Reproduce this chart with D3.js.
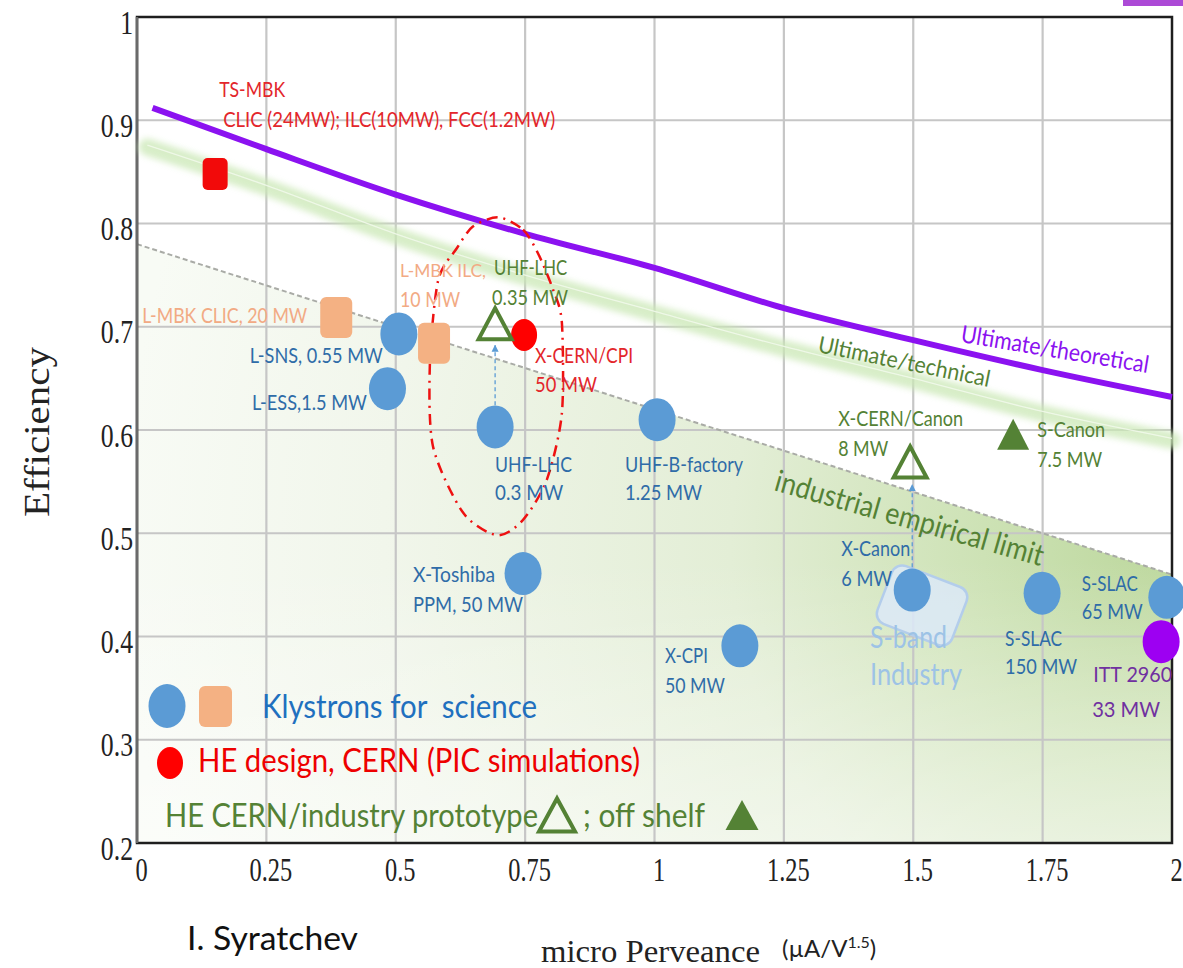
<!DOCTYPE html>
<html><head><meta charset="utf-8">
<script src="https://cdn.jsdelivr.net/npm/d3@7"></script>
<style>html,body{margin:0;padding:0;background:#fff;} svg{display:block;}</style>
</head><body><svg id="chart" width="1183" height="968"></svg>
<script>
// ---------------- DATA ----------------
const xTicks = [0, 0.25, 0.5, 0.75, 1, 1.25, 1.5, 1.75, 2];
const xTickLabels = ["0", "0.25", "0.5", "0.75", "1", "1.25", "1.5", "1.75", "2"];
const yTicks = [0.2, 0.3, 0.4, 0.5, 0.6, 0.7, 0.8, 0.9, 1.0];
const yTickLabels = ["0.2", "0.3", "0.4", "0.5", "0.6", "0.7", "0.8", "0.9", "1"];

// Klystrons for science (blue circles)
const scienceKlystrons = [
  {id: "L-SNS", lines: ["L-SNS, 0.55 MW"], perveance: 0.506, efficiency: 0.693},
  {id: "L-ESS", lines: ["L-ESS,1.5 MW"], perveance: 0.484, efficiency: 0.640},
  {id: "UHF-LHC-0.3", lines: ["UHF-LHC", "0.3 MW"], perveance: 0.692, efficiency: 0.603},
  {id: "UHF-B", lines: ["UHF-B-factory", "1.25 MW"], perveance: 1.005, efficiency: 0.610},
  {id: "X-Toshiba", lines: ["X-Toshiba", "PPM, 50 MW"], perveance: 0.746, efficiency: 0.461},
  {id: "X-CPI", lines: ["X-CPI", "50 MW"], perveance: 1.165, efficiency: 0.391},
  {id: "X-Canon", lines: ["X-Canon", "6 MW"], perveance: 1.498, efficiency: 0.445},
  {id: "S-SLAC-150", lines: ["S-SLAC", "150 MW"], perveance: 1.749, efficiency: 0.442},
  {id: "S-SLAC-65", lines: ["S-SLAC", "65 MW"], perveance: 1.990, efficiency: 0.438}
];
// Multi-beam klystrons for science (orange squares)
const mbkKlystrons = [
  {id: "L-MBK-CLIC", lines: ["L-MBK CLIC, 20 MW"], perveance: 0.385, efficiency: 0.709},
  {id: "L-MBK-ILC", lines: ["L-MBK ILC,", "10 MW"], perveance: 0.574, efficiency: 0.684}
];
// TS-MBK design (red square)
const tsMbk = [
  {id: "TS-MBK", lines: ["TS-MBK", "CLIC (24MW); ILC(10MW), FCC(1.2MW)"], perveance: 0.151, efficiency: 0.848}
];
// HE design, CERN (red circle)
const heDesigns = [
  {id: "X-CERN/CPI", lines: ["X-CERN/CPI", "50 MW"], perveance: 0.748, efficiency: 0.692}
];
// HE CERN/industry prototypes (open triangles)
const prototypes = [
  {id: "UHF-LHC-0.35", lines: ["UHF-LHC", "0.35 MW"], perveance: 0.692, efficiency: 0.703},
  {id: "X-CERN/Canon", lines: ["X-CERN/Canon", "8 MW"], perveance: 1.494, efficiency: 0.569}
];
// Off the shelf (filled triangle)
const offShelf = [
  {id: "S-Canon", lines: ["S-Canon", "7.5 MW"], perveance: 1.693, efficiency: 0.596}
];
// ITT tube (purple circle)
const ittTubes = [
  {id: "ITT", lines: ["ITT 2960", "33 MW"], perveance: 1.979, efficiency: 0.395}
];
// Upgrade arrows (perveance, from efficiency, to efficiency)
const upgrades = [
  {perveance: 0.692, from: 0.624, to: 0.682},
  {perveance: 1.498, from: 0.467, to: 0.547}
];
// Limit curves
const theoreticalLimit = [[0.03,0.912],[0.25,0.872],[0.5,0.828],[0.75,0.79],[1.0,0.757],[1.25,0.718],[1.5,0.687],[1.75,0.658],[2.0,0.632]];
const technicalLimit = [[0.02,0.874],[0.25,0.835],[0.5,0.788],[0.75,0.748],[1.0,0.713],[1.25,0.679],[1.5,0.648],[1.75,0.616],[2.0,0.59]];
const empiricalLimit = [[0,0.78],[2,0.46]];
// Highlight loop around the UHF-LHC upgrade
const highlightLoop = [[0.698,0.806],[0.746,0.794],[0.775,0.771],[0.804,0.736],[0.821,0.704],[0.821,0.616],[0.792,0.552],[0.746,0.513],[0.696,0.498],[0.630,0.520],[0.572,0.584],[0.566,0.665],[0.582,0.745],[0.618,0.776],[0.649,0.797]];
// S-band industry zone centre
const sBandZone = [{perveance: 1.517, efficiency: 0.43}];

// ---------------- LAYOUT / STYLE ----------------
const W = 1183, H = 968;
const x = d3.scaleLinear().domain([0, 2]).range([137, 1172]);
const y = d3.scaleLinear().domain([0.2, 1]).range([843, 17]);

const C = {
  blue: "#5b9bd5", blueText: "#2f6ca8", legendBlue: "#1f70bf",
  orange: "#f4b183", orangeText: "#f2aa84",
  red: "#ff0000", redText: "#e3262b",
  green: "#548235", purple: "#8b12f0", ittPurple: "#9d00f2", ittText: "#7030a0",
  grid: "#c6c6c6"
};
const SANS = "Lato, 'Open Sans', sans-serif";
const SERIF = "'Liberation Serif', 'DejaVu Serif', serif";

const labelLayout = {
  "L-SNS": {anchor: "end", dx: [-16], dy: [29], w: [133]},
  "L-ESS": {anchor: "end", dx: [-20.5], dy: [21], w: [115]},
  "L-MBK-CLIC": {anchor: "end", dx: [-29], dy: [5.5], w: [165]},
  "L-MBK-ILC": {anchor: "start", dx: [-34, -34], dy: [-66, -36], w: [86, 60], size: [17, 21]},
  "UHF-LHC-0.35": {anchor: "start", dx: [-1, -3], dy: [-48.6, -18.6], w: [73, 76]},
  "X-CERN/CPI": {anchor: "start", dx: [11, 11], dy: [28, 57], w: [98, 62]},
  "UHF-LHC-0.3": {anchor: "start", dx: [0, 0], dy: [45, 73], w: [77, 68]},
  "UHF-B": {anchor: "start", dx: [-32, -32], dy: [52, 80], w: [118, 77]},
  "X-Toshiba": {anchor: "start", dx: [-110, -110], dy: [8.5, 38.5], w: [82, 110]},
  "X-CPI": {anchor: "start", dx: [-75, -75], dy: [17, 47], w: [43, 60]},
  "X-Canon": {anchor: "start", dx: [-71, -71], dy: [-34, -4], w: [69, 51]},
  "S-SLAC-150": {anchor: "start", dx: [-37, -37], dy: [53, 81], w: [57, 72]},
  "S-SLAC-65": {anchor: "start", dx: [-85, -85], dy: [-6, 22], w: [56, 61]},
  "ITT": {anchor: "start", dx: [-68, -69], dy: [40.5, 75.5], w: [79, 68]},
  "X-CERN/Canon": {anchor: "start", dx: [-72, -72], dy: [-36, -6], w: [125, 50]},
  "S-Canon": {anchor: "start", dx: [24, 24], dy: [3, 33], w: [68, 65]},
  "TS-MBK": {anchor: "start", dx: [4, 8], dy: [-77, -47], w: [66, 332]}
};

const svg = d3.select("#chart");
const defs = svg.append("defs");

// gradients
const rg = defs.append("radialGradient").attr("id", "empFade")
  .attr("gradientUnits", "userSpaceOnUse")
  .attr("cx", 1172).attr("cy", 545).attr("r", 1050).attr("fx", 1172).attr("fy", 545);
rg.append("stop").attr("offset", 0).attr("stop-color", "#bcd79c");
rg.append("stop").attr("offset", 0.18).attr("stop-color", "#cde2b5");
rg.append("stop").attr("offset", 0.42).attr("stop-color", "#e3eed6");
rg.append("stop").attr("offset", 0.75).attr("stop-color", "#f1f6eb");
rg.append("stop").attr("offset", 1).attr("stop-color", "#f8fbf5");
const lg2 = defs.append("linearGradient").attr("id", "empBottom")
  .attr("gradientUnits", "userSpaceOnUse")
  .attr("x1", 0).attr("y1", 560).attr("x2", 0).attr("y2", 843);
lg2.append("stop").attr("offset", 0).attr("stop-color", "#ffffff").attr("stop-opacity", 0);
lg2.append("stop").attr("offset", 1).attr("stop-color", "#ffffff").attr("stop-opacity", 0.45);

const blur = defs.append("filter").attr("id", "soft").attr("x", "-10%").attr("y", "-50%").attr("width", "120%").attr("height", "200%");
blur.append("feGaussianBlur").attr("stdDeviation", 3);

const arrowM = defs.append("marker").attr("id", "arr").attr("viewBox", "0 0 10 10")
  .attr("refX", 9).attr("refY", 5).attr("markerWidth", 7).attr("markerHeight", 9)
  .attr("markerUnits", "userSpaceOnUse").attr("orient", "auto");
arrowM.append("path").attr("d", "M0,0 L10,5 L0,10 Z").attr("fill", C.blue);

svg.append("rect").attr("width", W).attr("height", H).attr("fill", "#fff");

// Empirical area
const areaGen = d3.area().x(d => x(d[0])).y0(y(0.2)).y1(d => y(d[1]));
svg.append("path").datum(empiricalLimit).attr("d", areaGen).attr("fill", "url(#empFade)");
svg.append("path").datum(empiricalLimit).attr("d", areaGen).attr("fill", "url(#empBottom)");

// Grid
const gridX = xTicks.filter(v => v > 0 && v < 2);
const gridY = yTicks.filter(v => v > 0.2 && v < 1);
svg.append("g").selectAll("line").data(gridX).join("line")
  .attr("x1", d => x(d)).attr("x2", d => x(d)).attr("y1", y(1)).attr("y2", y(0.2))
  .attr("stroke", C.grid).attr("stroke-width", 2.2);
svg.append("g").selectAll("line").data(gridY).join("line")
  .attr("x1", x(0)).attr("x2", x(2)).attr("y1", d => y(d)).attr("y2", d => y(d))
  .attr("stroke", C.grid).attr("stroke-width", 2.2);

// Empirical dashed border
const lineGen = d3.line().x(d => x(d[0])).y(d => y(d[1]));
svg.append("path").datum(empiricalLimit).attr("d", lineGen)
  .attr("fill", "none").attr("stroke", "#a9aba6").attr("stroke-width", 2).attr("stroke-dasharray", "5,3");

// Plot frame
svg.append("rect").attr("x", x(0)).attr("y", y(1)).attr("width", x(2) - x(0)).attr("height", y(0.2) - y(1))
  .attr("fill", "none").attr("stroke", "#1e1e1e").attr("stroke-width", 2.5);
svg.append("line").attr("x1", x(0)).attr("x2", x(0)).attr("y1", y(1)).attr("y2", y(0.2))
  .attr("stroke", "#6a6a6a").attr("stroke-width", 2.5);

// Axes labels via d3 axes
const yAxis = svg.append("g").attr("transform", `translate(${x(0)},0)`)
  .call(d3.axisLeft(y).tickValues(yTicks).tickFormat((d, i) => yTickLabels[i]).tickSize(0));
yAxis.select(".domain").remove();
yAxis.selectAll("text").attr("font-family", SERIF).attr("font-size", 33).attr("fill", "#222")
  .attr("transform", "scale(0.78,1)").attr("x", -4 / 0.78).attr("dy", null).attr("y", 16);
const xAxis = svg.append("g").attr("transform", `translate(0,${y(0.2)})`)
  .call(d3.axisBottom(x).tickValues(xTicks).tickFormat((d, i) => xTickLabels[i]).tickSize(0));
xAxis.select(".domain").remove();
xAxis.selectAll("text").attr("font-family", SERIF).attr("font-size", 33).attr("fill", "#222")
  .attr("dy", null).attr("y", 38)
  .attr("transform", "translate(4,0) scale(0.74,1)");

// Technical limit band
const curve = d3.line().x(d => x(d[0])).y(d => y(d[1])).curve(d3.curveMonotoneX);
svg.append("path").datum(technicalLimit).attr("d", curve).attr("fill", "none")
  .attr("stroke", "#cbe8b6").attr("stroke-width", 17).attr("stroke-linecap", "round")
  .attr("opacity", 0.75).attr("filter", "url(#soft)");
svg.append("path").datum(technicalLimit).attr("d", curve).attr("fill", "none")
  .attr("stroke", "#f2f9ec").attr("stroke-width", 1.3).attr("opacity", 0.85)
  .attr("transform", "translate(0,-2)");

// Theoretical limit
svg.append("path").datum(theoreticalLimit).attr("d", curve).attr("fill", "none")
  .attr("stroke", C.purple).attr("stroke-width", 6);

// S-band industry zone
svg.selectAll(".sband").data(sBandZone).join("rect")
  .attr("x", -40).attr("y", -31).attr("width", 80).attr("height", 62).attr("rx", 11)
  .attr("transform", d => `translate(${x(d.perveance)},${y(d.efficiency)}) rotate(21)`)
  .attr("fill", "#dce9f8").attr("fill-opacity", 0.85).attr("stroke", "#b3cdeb").attr("stroke-width", 2.5);

// Highlight loop
svg.append("path").datum(highlightLoop)
  .attr("d", d3.line().x(d => x(d[0])).y(d => y(d[1])).curve(d3.curveCardinalClosed.tension(0.2)))
  .attr("fill", "none").attr("stroke", "#ee1111").attr("stroke-width", 2.5)
  .attr("stroke-dasharray", "11,6,2,6");

// Upgrade arrows
svg.selectAll(".upg").data(upgrades).join("line")
  .attr("x1", d => x(d.perveance)).attr("x2", d => x(d.perveance))
  .attr("y1", d => y(d.from)).attr("y2", d => y(d.to))
  .attr("stroke", C.blue).attr("stroke-width", 1.3).attr("stroke-dasharray", "4,3")
  .attr("marker-end", "url(#arr)");

// Markers
function circles(data, fill, rx, ry) {
  svg.append("g").selectAll("ellipse").data(data).join("ellipse")
    .attr("cx", d => x(d.perveance)).attr("cy", d => y(d.efficiency))
    .attr("rx", rx).attr("ry", ry).attr("fill", fill);
}
function squares(data, fill, w, h, r) {
  svg.append("g").selectAll("rect").data(data).join("rect")
    .attr("x", d => x(d.perveance) - w / 2).attr("y", d => y(d.efficiency) - h / 2)
    .attr("width", w).attr("height", h).attr("rx", r).attr("fill", fill);
}
function triPath(cx, cy, w, h) {
  return `M${cx},${cy - h / 2} L${cx + w / 2},${cy + h / 2} L${cx - w / 2},${cy + h / 2} Z`;
}
circles(scienceKlystrons, C.blue, 18.5, 21.5);
squares(mbkKlystrons, C.orange, 32, 41, 6);
squares(tsMbk, "#f20a0a", 25, 32, 5);
circles(heDesigns, C.red, 13, 16);
circles(ittTubes, C.ittPurple, 18.5, 21.5);
svg.append("g").selectAll("path").data(prototypes).join("path")
  .attr("d", d => triPath(x(d.perveance), y(d.efficiency), 33, 31))
  .attr("fill", "none").attr("stroke", C.green).attr("stroke-width", 4).attr("stroke-linejoin", "miter");
svg.append("g").selectAll("path").data(offShelf).join("path")
  .attr("d", d => triPath(x(d.perveance), y(d.efficiency), 32, 31))
  .attr("fill", C.green);

// Point labels
function labels(data, color) {
  data.forEach(d => {
    const L = labelLayout[d.id];
    const px = x(d.perveance), py = y(d.efficiency);
    d.lines.forEach((t, i) => {
      svg.append("text").text(t)
        .attr("x", px + L.dx[Math.min(i, L.dx.length - 1)]).attr("y", py + L.dy[i])
        .attr("text-anchor", L.anchor).attr("font-family", SANS)
        .attr("font-size", L.size ? L.size[i] : 21)
        .attr("fill", color).attr("textLength", L.w[i]).attr("lengthAdjust", "spacingAndGlyphs");
    });
  });
}
labels(scienceKlystrons, C.blueText);
labels(mbkKlystrons, C.orangeText);
labels(tsMbk, C.redText);
labels(heDesigns, C.redText);
labels(prototypes, C.green);
labels(offShelf, C.green);
labels(ittTubes, C.ittText);

// S-band zone text (over the zone)
svg.append("text").text("S-band").attr("x", 870).attr("y", 648)
  .attr("font-family", SANS).attr("font-size", 31).attr("fill", "#9dc3e6")
  .attr("textLength", 77).attr("lengthAdjust", "spacingAndGlyphs");
svg.append("text").text("Industry").attr("x", 870).attr("y", 685)
  .attr("font-family", SANS).attr("font-size", 31).attr("fill", "#9dc3e6")
  .attr("textLength", 92).attr("lengthAdjust", "spacingAndGlyphs");

// Curve annotations (rotated)
function rotText(t, px, py, ang, size, color, len) {
  svg.append("text").text(t).attr("transform", `translate(${px},${py}) rotate(${ang})`)
    .attr("font-family", SANS).attr("font-size", size).attr("fill", color)
    .attr("textLength", len).attr("lengthAdjust", "spacingAndGlyphs");
}
rotText("Ultimate/theoretical", 960, 342, 9.4, 24, C.purple, 190);
rotText("Ultimate/technical", 817, 352, 11.5, 23, C.green, 175);
rotText("industrial empirical limit", 773, 490, 15.9, 30, C.green, 278);

// Legend
const legend = svg.append("g");
legend.append("ellipse").attr("cx", 167).attr("cy", 706).attr("rx", 18.5).attr("ry", 22).attr("fill", C.blue);
legend.append("rect").attr("x", 199).attr("y", 686).attr("width", 33).attr("height", 41).attr("rx", 6).attr("fill", C.orange);
legend.append("text").text("Klystrons for  science").style("white-space", "pre")
  .attr("x", 262).attr("y", 718).attr("font-family", SANS).attr("font-size", 32).attr("fill", C.legendBlue)
  .attr("textLength", 275).attr("lengthAdjust", "spacingAndGlyphs");
legend.append("ellipse").attr("cx", 170).attr("cy", 763).attr("rx", 13).attr("ry", 16).attr("fill", C.red);
legend.append("text").text("HE design, CERN (PIC simulations)")
  .attr("x", 198).attr("y", 772).attr("font-family", SANS).attr("font-size", 32).attr("fill", "#ee0000")
  .attr("textLength", 442).attr("lengthAdjust", "spacingAndGlyphs");
legend.append("text").text("HE CERN/industry prototype")
  .attr("x", 165).attr("y", 827).attr("font-family", SANS).attr("font-size", 32).attr("fill", C.green)
  .attr("textLength", 373).attr("lengthAdjust", "spacingAndGlyphs");
legend.append("path").attr("d", triPath(557, 815, 36, 33)).attr("fill", "none").attr("stroke", C.green).attr("stroke-width", 4);
legend.append("text").text("; off shelf")
  .attr("x", 583).attr("y", 827).attr("font-family", SANS).attr("font-size", 32).attr("fill", C.green)
  .attr("textLength", 122).attr("lengthAdjust", "spacingAndGlyphs");
legend.append("path").attr("d", triPath(742, 815, 33, 30)).attr("fill", C.green);

// Axis titles
svg.append("text").text("Efficiency").attr("transform", "translate(49,517) rotate(-90)")
  .attr("font-family", SERIF).attr("font-size", 35).attr("fill", "#222")
  .attr("textLength", 170).attr("lengthAdjust", "spacingAndGlyphs");
svg.append("text").text("micro Perveance").attr("x", 541).attr("y", 962)
  .attr("font-family", SERIF).attr("font-size", 31).attr("fill", "#222")
  .attr("textLength", 219).attr("lengthAdjust", "spacingAndGlyphs");
const unit = svg.append("text").attr("x", 782).attr("y", 957).attr("font-family", SANS).attr("font-size", 24).attr("fill", "#222");
unit.append("tspan").text("(µA/V");
unit.append("tspan").text("1.5").attr("font-size", 16).attr("dy", -9);
unit.append("tspan").text(")").attr("dy", 9);
svg.append("text").text("I. Syratchev").attr("x", 187).attr("y", 950)
  .attr("font-family", SANS).attr("font-size", 33).attr("fill", "#111")
  .attr("textLength", 171).attr("lengthAdjust", "spacingAndGlyphs");

// small purple tab at the top right
svg.append("rect").attr("x", 1123).attr("y", 0).attr("width", 60).attr("height", 6).attr("fill", "#ac4ad6");
</script></body></html>
